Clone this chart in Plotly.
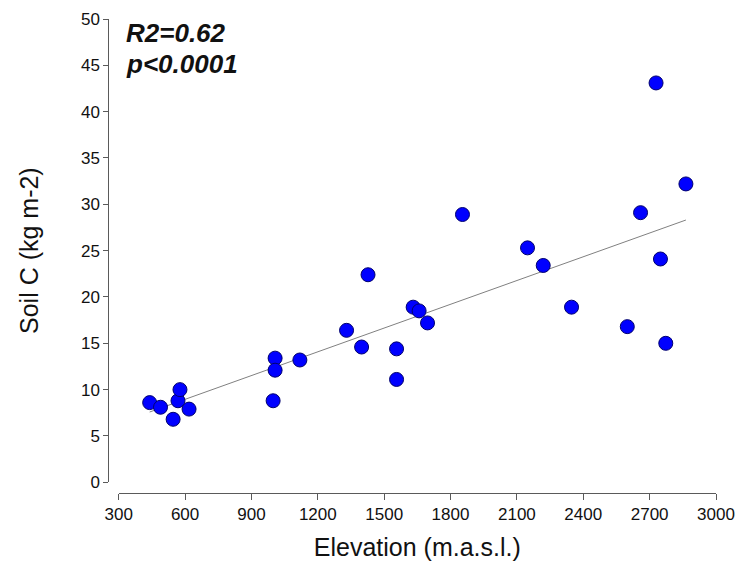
import numpy as np
import plotly.graph_objects as go

elevation = [440, 489, 546, 568, 577, 618, 998, 1007, 1007, 1119, 1330, 1398, 1427,
             1556, 1556, 1631, 1658, 1696, 1854, 2148, 2219, 2347, 2599, 2659, 2729,
             2749, 2773, 2864]
soil_c = [8.6, 8.1, 6.8, 8.8, 10.0, 7.9, 8.8, 13.4, 12.1, 13.2, 16.4, 14.6, 22.4,
          14.4, 11.1, 18.9, 18.5, 17.2, 28.9, 25.3, 23.4, 18.9, 16.8, 29.1, 43.1,
          24.1, 15.0, 32.2]

x_ticks = [300, 600, 900, 1200, 1500, 1800, 2100, 2400, 2700, 3000]
y_ticks = [0, 5, 10, 15, 20, 25, 30, 35, 40, 45, 50]
stats_lines = ["R2=0.62", "p<0.0001"]

xa = np.array(elevation, dtype=float)
ya = np.array(soil_c, dtype=float)
slope, intercept = np.polyfit(xa, ya, 1)
fit_x = [xa.min(), xa.max()]
fit_y = [intercept + slope * v for v in fit_x]

FONT = "Liberation Sans, Arial, sans-serif"

fig = go.Figure()
fig.add_trace(go.Scatter(x=fit_x, y=fit_y, mode="lines",
                         line=dict(color="#808080", width=1), hoverinfo="skip",
                         showlegend=False))
fig.add_trace(go.Scatter(x=elevation, y=soil_c, mode="markers",
                         marker=dict(size=14, color="#0000FF",
                                     line=dict(color="#00006e", width=1)),
                         showlegend=False))

W, H = 735, 571
ml, mr, mt, mb = 80, 2, 2, 50
pw, ph = W - ml - mr, H - mt - mb

def px_x(p):
    return (p - ml) / pw

def px_y(p):
    return (H - mb - p) / ph

fig.update_layout(
    width=W, height=H,
    margin=dict(l=ml, r=mr, t=mt, b=mb, autoexpand=False),
    paper_bgcolor="white", plot_bgcolor="white",
    font=dict(family=FONT, color="#111111"),
    xaxis=dict(
        domain=[px_x(118.7), px_x(716)],
        range=[300, 3000], tickvals=x_ticks, ticktext=[str(v) for v in x_ticks],
        showgrid=False, zeroline=False, automargin=False,
        showline=True, linecolor="#5a5a5a", linewidth=1,
        ticks="outside", ticklen=6, tickcolor="#5a5a5a", tickwidth=1,
        tickfont=dict(size=17, family=FONT, color="#111111"),
        anchor="free", position=px_y(492.7),
        title=dict(text="Elevation (m.a.s.l.)", font=dict(size=25, family=FONT, color="#111111"),
                   standoff=15),
    ),
    yaxis=dict(
        domain=[px_y(482.3), px_y(19)],
        range=[0, 50], tickvals=y_ticks, ticktext=[str(v) for v in y_ticks],
        showgrid=False, zeroline=False, automargin=False,
        showline=True, linecolor="#5a5a5a", linewidth=1,
        ticks="outside", ticklen=5, tickcolor="#5a5a5a", tickwidth=1,
        tickfont=dict(size=17, family=FONT, color="#111111"),
        anchor="free", position=px_x(108.3),
        title=dict(text="Soil C (kg m-2)", font=dict(size=25, family=FONT, color="#111111"),
                   standoff=34),
    ),
)

for i, txt in enumerate(stats_lines):
    fig.add_annotation(xref="paper", yref="paper",
                       x=px_x(124), y=px_y(33 + 31 * i),
                       xanchor="left", yanchor="middle", showarrow=False,
                       text="<b><i>%s</i></b>" % txt,
                       font=dict(size=26, family=FONT, color="#111111"))

fig.write_html(
    "out.html",
    config={"displayModeBar": False},
    post_script="document.body.style.margin='0';document.body.style.overflow='hidden';",
)
